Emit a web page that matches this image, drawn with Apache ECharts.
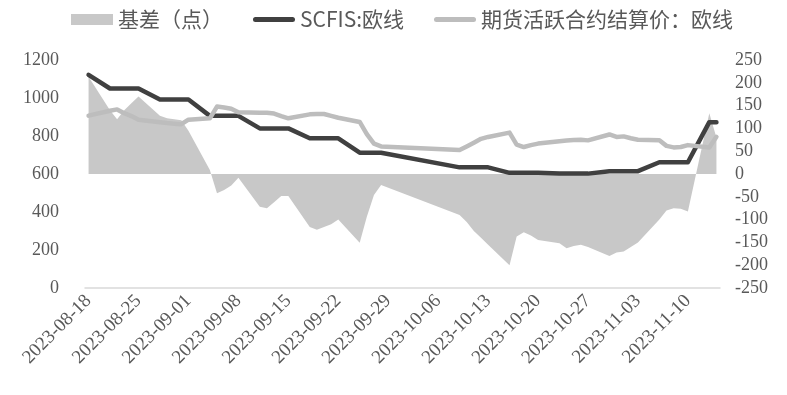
<!DOCTYPE html>
<html>
<head>
<meta charset="utf-8">
<script src="https://cdn.jsdelivr.net/npm/echarts@6/dist/echarts.min.js"></script>
<style>
html,body{margin:0;padding:0;background:#fff;}
#chart{width:787px;height:395px;}
</style>
</head>
<body>
<div id="chart"></div>
<script>
// Trading days (MM-DD, year 2023)
var tradeDates = [
 '08-18','08-21','08-22','08-23','08-24','08-25','08-28','08-29','08-30','08-31',
 '09-01','09-04','09-05','09-06','09-07','09-08','09-11','09-12','09-13','09-14',
 '09-15','09-18','09-19','09-20','09-21','09-22','09-25','09-26','09-27','09-28',
 '10-09','10-10','10-11','10-12','10-13','10-16','10-17','10-18','10-19','10-20',
 '10-23','10-24','10-25','10-26','10-27','10-30','10-31','11-01','11-02','11-03',
 '11-06','11-07','11-08','11-09','11-10','11-13','11-14'
];
// SCFIS: Europe line (left axis)
var scfis = [
 1122,1050,1050,1050,1050,1050,992,992,992,992,
 992,906,906,906,906,906,840,840,840,840,
 840,788,788,788,788,788,712,712,712,712,
 635,635,635,635,635,606,606,606,606,606,
 602,602,602,602,602,615,615,615,615,615,
 662,662,662,662,662,873,873
];
// Active futures settlement price: Europe line (left axis)
var futures = [
 907,933,940,920,905,885,872,868,865,862,
 886,893,955,950,943,925,922,922,918,905,
 893,914,916,916,906,896,874,810,760,745,
 726,745,765,785,795,818,755,742,752,760,
 772,776,779,780,777,808,795,798,788,780,
 778,748,740,742,752,740,796
];
// Basis (points, right axis)
var basis = [
 213,140,120,140,155,170,128,122,120,118,
 95,9,-42,-35,-25,-8,-72,-75,-62,-48,
 -48,-116,-122,-116,-110,-100,-151,-94,-46,-24,
 -90,-105,-125,-140,-155,-200,-137,-128,-135,-145,
 -152,-163,-158,-155,-160,-180,-172,-170,-160,-150,
 -100,-80,-75,-76,-82,133,80
];
var startDate = '2023-08-18';
var endDate = '2023-11-14';
var leftTicks = {min:0, max:1200, interval:200};
var rightTicks = {min:-250, max:250, interval:50};

// Build full calendar-day category list
function fmt(d){
  var m = d.getUTCMonth()+1, dd = d.getUTCDate();
  return d.getUTCFullYear()+'-'+(m<10?'0':'')+m+'-'+(dd<10?'0':'')+dd;
}
var days = [];
var cur = new Date(startDate+'T00:00:00Z'), end = new Date(endDate+'T00:00:00Z');
while (cur <= end) { days.push(fmt(cur)); cur = new Date(cur.getTime()+86400000); }
function fill(vals){
  var map = {};
  tradeDates.forEach(function(t,i){ map['2023-'+t] = vals[i]; });
  return days.map(function(d){ return map.hasOwnProperty(d) ? map[d] : null; });
}

var txt = '#595959';
// thick-line legend icon (bounding box padded to full item height by move-to points)
var lineIcon = 'path://M0,0 M42,11 M2.5,3 L39.5,3 Q42,3 42,5.5 Q42,8 39.5,8 L2.5,8 Q0,8 0,5.5 Q0,3 2.5,3 Z';
var chart = echarts.init(document.getElementById('chart'));
chart.setOption({
  animation:false,
  backgroundColor:'#fff',
  textStyle:{fontFamily:'Liberation Serif, Noto Sans CJK SC'},
  legend:{
    left:66, top:4, itemWidth:42, itemHeight:11, itemGap:30,
    textStyle:{fontSize:21, color:txt, fontFamily:'Noto Sans CJK SC'},
    data:[
      {name:'基差（点）', icon:'rect'},
      {name:'SCFIS:欧线', icon:lineIcon},
      {name:'期货活跃合约结算价：欧线', icon:lineIcon}
    ]
  },
  grid:{left:85, right:67, top:60, bottom:107, containLabel:false},
  xAxis:{
    type:'category', data:days, boundaryGap:true,
    axisLine:{lineStyle:{color:'#d9d9d9', width:1.5}},
    axisTick:{interval:6, length:5, lineStyle:{color:'#d9d9d9', width:1.5}},
    axisLabel:{interval:6, rotate:45, margin:10, fontSize:19, color:txt, fontFamily:'Liberation Serif'},
    splitLine:{show:false}
  },
  yAxis:[
    {type:'value', min:leftTicks.min, max:leftTicks.max, interval:leftTicks.interval,
     axisLine:{show:false}, axisTick:{show:false}, splitLine:{show:false},
     axisLabel:{margin:26, fontSize:18, color:txt, fontFamily:'Liberation Serif',
       formatter:function(v){ return String(v); }}},
    {type:'value', min:rightTicks.min, max:rightTicks.max, interval:rightTicks.interval,
     axisLine:{show:false}, axisTick:{show:false}, splitLine:{show:false},
     axisLabel:{margin:15, fontSize:18, color:txt, fontFamily:'Liberation Serif',
       formatter:function(v){ return String(v); }}}
  ],
  series:[
    {name:'基差（点）', type:'line', yAxisIndex:1, data:fill(basis), connectNulls:true,
     symbol:'none', lineStyle:{width:0, color:'#c8c8c8'}, itemStyle:{color:'#c8c8c8'},
     areaStyle:{color:'#c8c8c8', opacity:1}, z:1},
    {name:'SCFIS:欧线', type:'line', yAxisIndex:0, data:fill(scfis), connectNulls:true,
     symbol:'none', itemStyle:{color:'#404040'},
     lineStyle:{width:4.5, color:'#404040', cap:'round', join:'round'}, z:2},
    {name:'期货活跃合约结算价：欧线', type:'line', yAxisIndex:0, data:fill(futures), connectNulls:true,
     symbol:'none', itemStyle:{color:'#bdbdbd'},
     lineStyle:{width:4.5, color:'#bdbdbd', cap:'round', join:'round'}, z:3}
  ]
});
</script>
</body>
</html>
